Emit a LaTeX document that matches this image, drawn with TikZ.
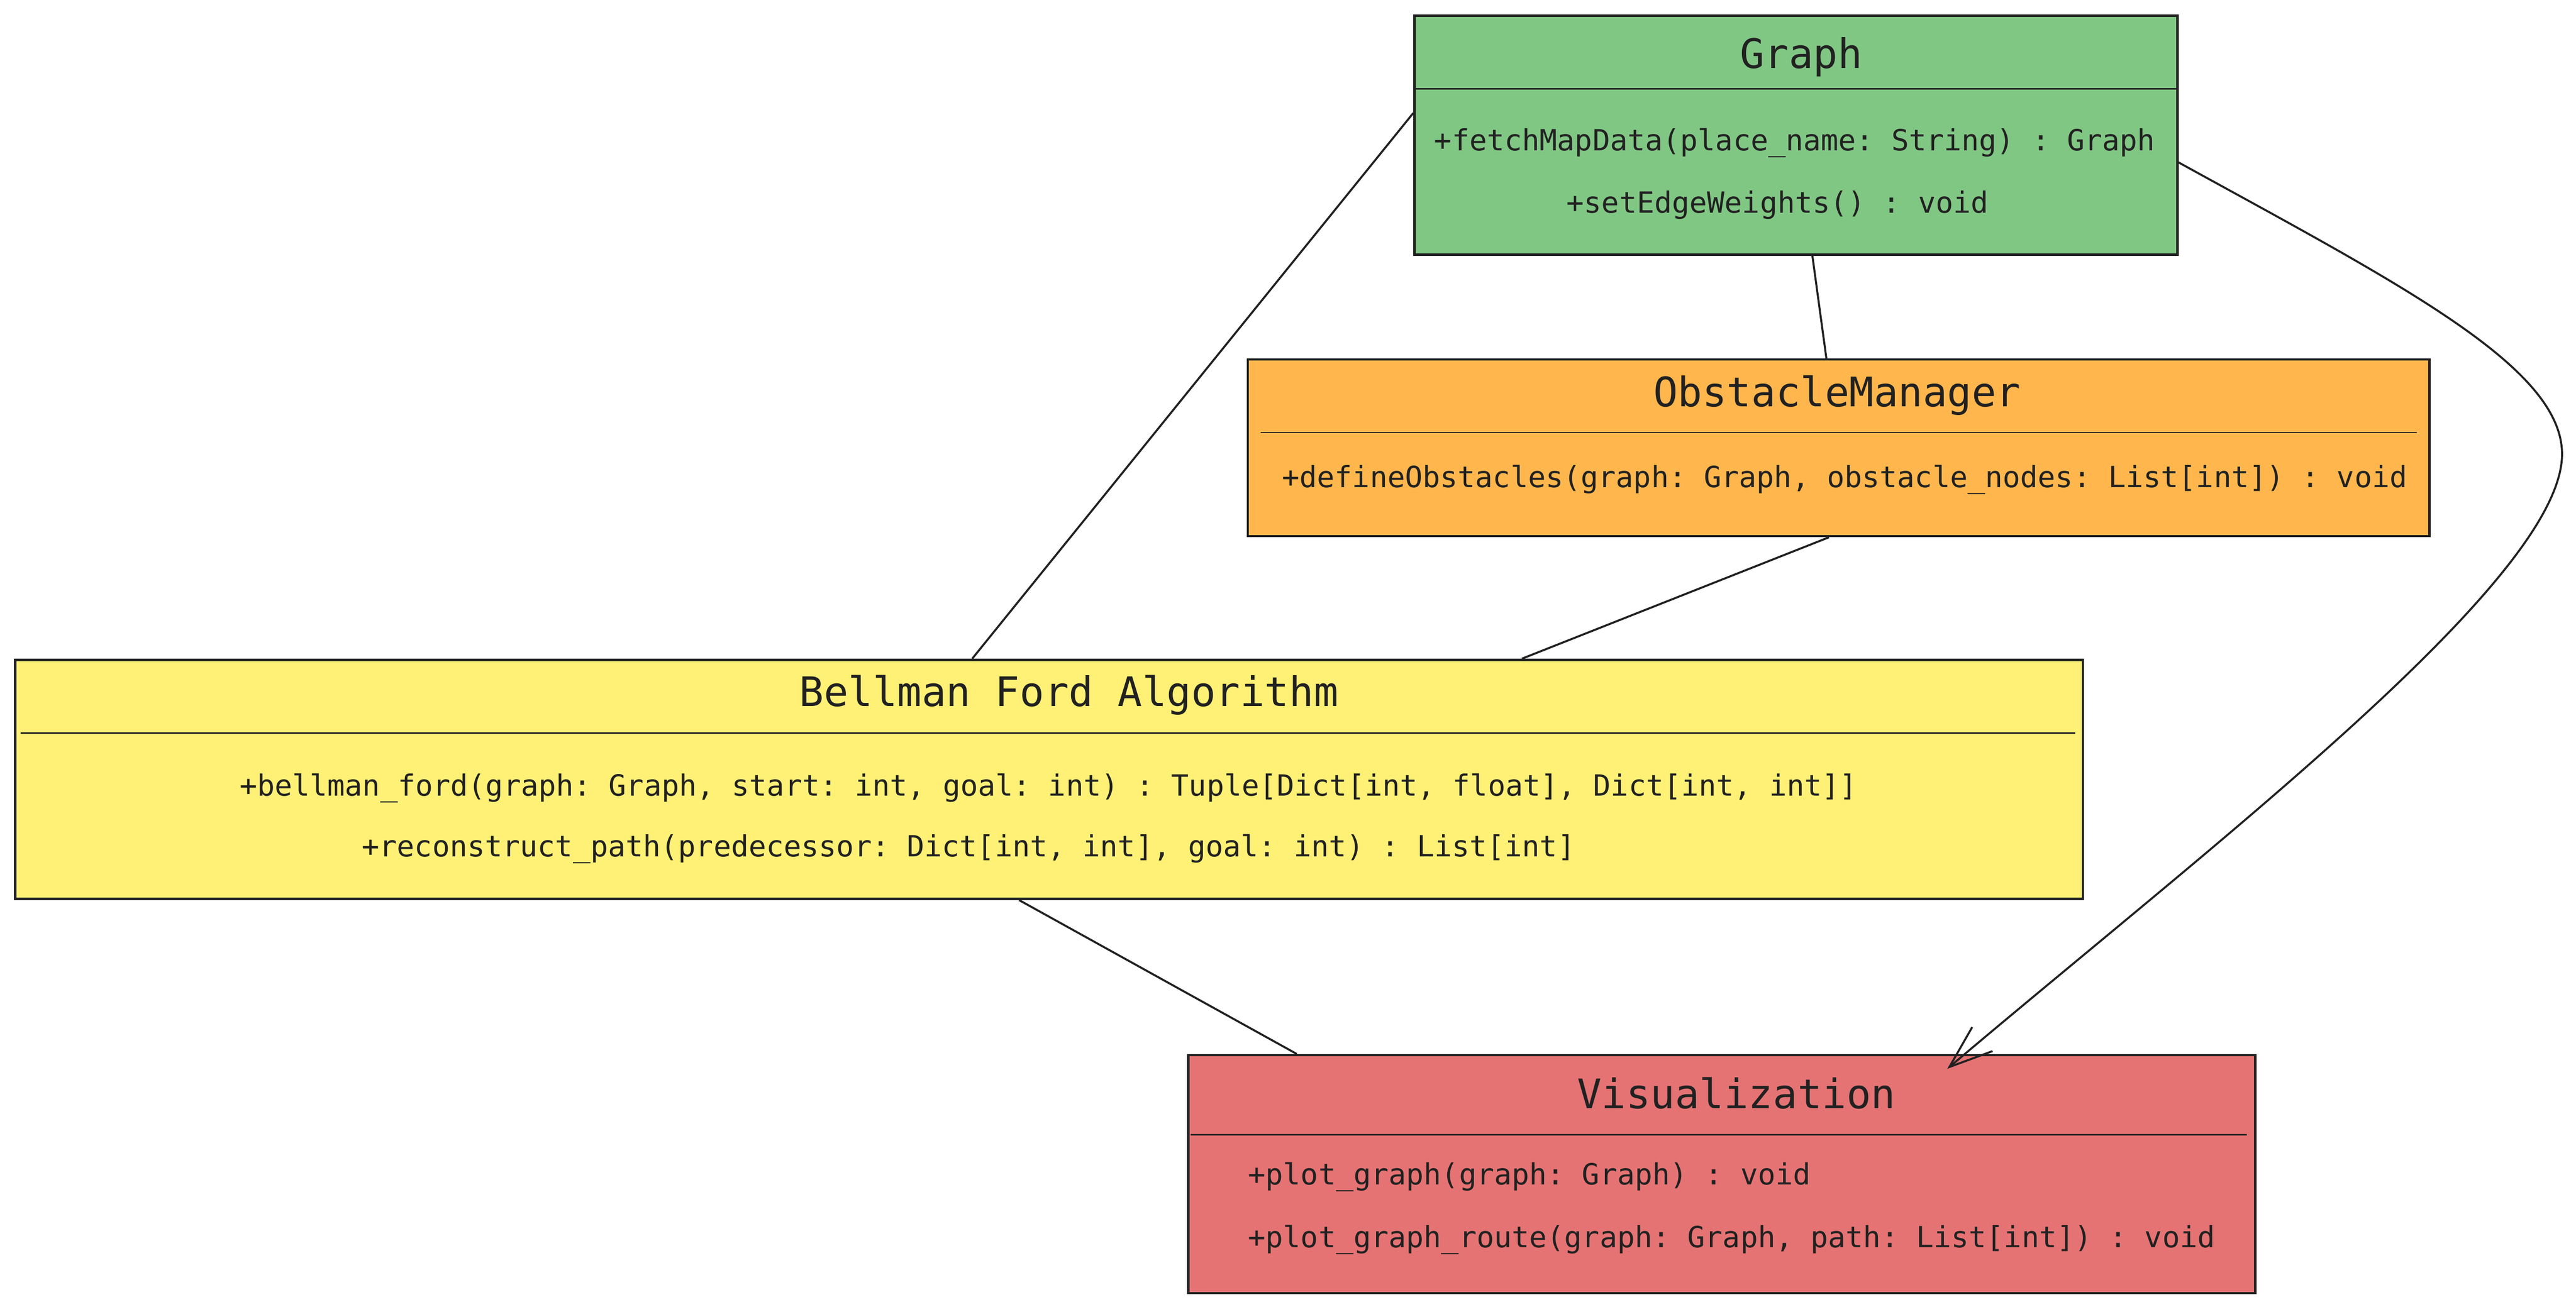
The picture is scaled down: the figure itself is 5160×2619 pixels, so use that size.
\documentclass[tikz,border=0pt]{standalone}
\usepackage{fontspec}
\setmonofont{DejaVu Sans Mono}
\usetikzlibrary{arrows.meta}
\definecolor{ink}{HTML}{212121}
\definecolor{cgreen}{HTML}{81C784}
\definecolor{corange}{HTML}{FFB74D}
\definecolor{cyellow}{HTML}{FFF176}
\definecolor{cred}{HTML}{E57373}
\begin{document}
\begin{tikzpicture}[x=0.2pt,y=-0.2pt,
  umlbox/.style={draw=ink,line width=0.95pt,rectangle,inner sep=0pt,anchor=north west},
  umltitle/.style={anchor=base,inner sep=0pt,text=ink,font=\ttfamily\fontsize{16.3}{19}\selectfont},
  meth/.style={anchor=base west,inner sep=0pt,text=ink,font=\ttfamily\fontsize{11.7}{14}\selectfont},
  sepline/.style={draw=ink,line width=0.5pt},
  link/.style={draw=ink,line width=0.8pt}]
\useasboundingbox (0,0) rectangle (5160,2619);

% boxes
\node[umlbox,fill=cgreen,minimum width=305.6pt,minimum height=95.8pt] (G) at (2831,29) {};
\node[umlbox,fill=corange,minimum width=473.4pt,minimum height=70.8pt] (O) at (2497,718) {};
\node[umlbox,fill=cyellow,minimum width=828.4pt,minimum height=95.8pt] (B) at (28,1320) {};
\node[umlbox,fill=cred,minimum width=427.4pt,minimum height=95.4pt] (V) at (2378,2112) {};

% separators
\draw[sepline] (2831,178) -- (4359,178);
\draw[sepline] (2525,867) -- (4841,867);
\draw[sepline] (41,1469) -- (4157,1469);
\draw[sepline] (2385,2274) -- (4501,2274);

% titles
\node[umltitle] (Gt) at (3608,137) {Graph};
\node[umltitle] (Ot) at (3680,815) {ObstacleManager};
\node[umltitle] (Bt) at (2141,1415) {Bellman Ford Algorithm};
\node[umltitle] (Vt) at (3478,2221) {Visualization};

% methods
\node[meth] (G1) at (2872,302) {+fetchMapData(place\_name: String) : Graph};
\node[meth] (G2) at (3137,427) {+setEdgeWeights() : void};
\node[meth] (O1) at (2567,977) {+defineObstacles(graph: Graph, obstacle\_nodes: List[int]) : void};
\node[meth] (B1) at (479,1595) {+bellman\_ford(graph: Graph, start: int, goal: int) : Tuple[Dict[int, float], Dict[int, int]]};
\node[meth] (B2) at (724,1717) {+reconstruct\_path(predecessor: Dict[int, int], goal: int) : List[int]};
\node[meth] (V1) at (2499,2374) {+plot\_graph(graph: Graph) : void};
\node[meth] (V2) at (2499,2500) {+plot\_graph\_route(graph: Graph, path: List[int]) : void};

% connectors
\draw[link] ([yshift=8.9pt]G.west) -- ([xshift=-30.8pt]B.north);
\draw[link] ([xshift=6.6pt]G.south) -- ([xshift=-4.9pt]O.north);
\draw[link] ([xshift=-3.9pt]O.south) -- ([xshift=189.4pt]B.north);
\draw[link] ([xshift=-12pt]B.south) -- ([xshift=-170.3pt]V.north);
\draw[link,-{Straight Barb[length=17.3pt,width=12.6pt]}]
  ([yshift=-10.9pt]G.east) .. controls (4808,570) and (5132,735) .. (5132,910)
  .. controls (5132,1160) and (4433,1691) .. ([xshift=90.3pt,yshift=-6pt]V.north);
\end{tikzpicture}
\end{document}
